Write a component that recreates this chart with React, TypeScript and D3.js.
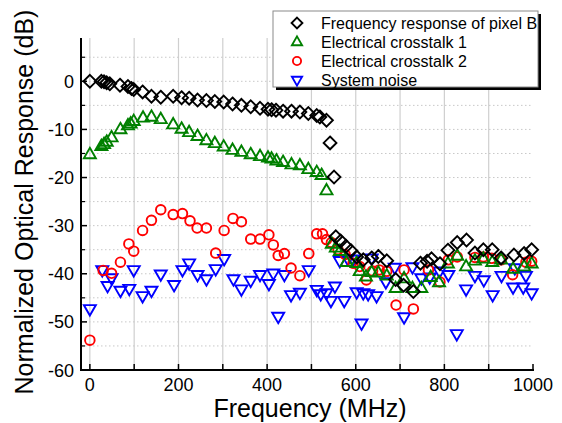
import React from "react";
import * as d3 from "d3";

// ---- data (frequency MHz, normalized response dB) ----
const pixelFreq = [0, 26, 32, 38, 45, 68, 86, 94, 99, 119, 139, 160, 188, 207, 224, 243, 263, 282, 302, 322, 342, 363, 384, 402, 410, 420, 436, 455, 474, 493, 512, 519, 534, 542, 551, 555, 566, 578, 589, 602, 617, 636, 651, 670, 690, 708, 730, 746, 761, 771, 790, 808, 829, 850, 869, 888, 908, 928, 957, 980, 997];
const pixelDb = [0, 0, -0.1, -0.3, -0.5, -0.8, -1.1, -1.5, -1.7, -2.2, -3.1, -3.3, -3.1, -3.4, -3.5, -3.9, -4.0, -4.2, -4.3, -4.7, -5.0, -5.3, -5.6, -5.8, -5.9, -6.0, -6.2, -6.2, -6.4, -6.7, -7.1, -7.4, -8.1, -12.8, -19.9, -32.3, -33.2, -34.3, -35.2, -36.5, -37.1, -36.7, -36.4, -37.3, -41.2, -42.4, -43.7, -37.8, -37.4, -36.9, -37.9, -35.1, -33.5, -33.0, -35.7, -35.0, -35.0, -36.7, -36.1, -35.8, -35.0];

const xt1Freq = [0, 26, 32, 38, 49, 69, 86, 92, 99, 120, 139, 160, 188, 207, 224, 243, 263, 282, 302, 322, 342, 363, 384, 402, 410, 421, 436, 455, 474, 493, 512, 523, 534, 546, 555, 564, 579, 602, 609, 623, 636, 651, 670, 690, 709, 728, 748, 769, 788, 808, 829, 849, 869, 888, 908, 928, 955, 980, 997];
const xt1Db = [-15.2, -13.5, -13.1, -12.6, -11.7, -10.0, -9.2, -8.8, -8.3, -7.6, -7.4, -7.9, -9.0, -9.9, -10.6, -11.4, -12.3, -12.9, -13.6, -14.3, -14.7, -15.2, -15.6, -15.9, -16.1, -16.5, -16.8, -17.3, -17.5, -18.3, -18.9, -19.5, -22.7, -33.8, -34.6, -35.3, -37.6, -37.8, -39.5, -40.6, -39.7, -39.8, -40.4, -43.0, -41.0, -43.0, -43.0, -40.7, -41.8, -37.9, -36.3, -38.5, -37.3, -36.9, -37.6, -37.1, -39.0, -38.5, -37.9];

const xt2Freq = [0, 30, 49, 69, 88, 99, 119, 139, 160, 188, 209, 226, 242, 263, 284, 303, 323, 342, 363, 384, 404, 414, 425, 439, 454, 474, 494, 512, 525, 534, 545, 560, 576, 594, 609, 624, 638, 653, 670, 691, 709, 730, 764, 790, 809, 829, 869, 888, 907, 928, 954, 984, 997];
const xt2Db = [-53.8, -39.3, -39.9, -37.6, -33.8, -35.3, -31.0, -28.9, -26.7, -27.7, -27.5, -29.0, -30.5, -30.5, -35.7, -31.0, -28.5, -29.2, -32.8, -32.8, -31.9, -34.0, -36.2, -35.8, -38.8, -40.4, -35.8, -31.7, -31.7, -32.9, -33.5, -35.0, -36.0, -37.8, -38.5, -41.3, -39.4, -39.2, -39.5, -46.5, -39.2, -47.3, -39.2, -41.7, -37.1, -36.5, -36.6, -36.5, -36.8, -37.1, -40.2, -37.6, -37.4];

const noiseFreq = [0, 28, 40, 49, 69, 89, 99, 119, 139, 160, 190, 209, 224, 243, 263, 284, 303, 324, 342, 363, 384, 404, 414, 425, 439, 454, 474, 494, 512, 521, 534, 544, 553, 564, 574, 582, 594, 602, 613, 617, 628, 636, 647, 668, 688, 709, 728, 748, 767, 789, 809, 828, 849, 869, 889, 909, 929, 955, 959, 978, 984, 997];
const noiseDb = [-47.3, -39.2, -42.5, -40.9, -43.5, -43.1, -39.2, -44.6, -43.5, -40.1, -42.3, -39.2, -37.8, -40.2, -41.1, -39.0, -36.9, -41.1, -43.2, -41.4, -40.2, -42.1, -39.9, -48.9, -40.2, -44.4, -43.9, -39.2, -43.3, -44.2, -44.0, -45.6, -42.6, -37.3, -45.6, -36.9, -37.0, -43.8, -50.3, -44.0, -44.2, -36.8, -44.6, -41.7, -38.7, -49.0, -38.6, -40.9, -40.7, -39.5, -40.2, -52.5, -43.2, -40.4, -41.3, -44.4, -40.4, -42.8, -38.8, -42.8, -40.4, -44.0];

const xTicks = [0, 200, 400, 600, 800, 1000];
const xGrid = [0, 100, 200, 300, 400, 500, 600, 700, 800, 900];
const yTicks = [-60, -50, -40, -30, -20, -10, 0];
const yMinor = [-55, -45, -35, -25, -15, -5, 5];

const legendLabels = ["Frequency response of pixel B", "Electrical crosstalk 1", "Electrical crosstalk 2", "System noise"];

const GREEN = "#008000";
const FONT = "'Liberation Sans', Arial, sans-serif";

type Kind = "diamond" | "up" | "circle" | "down";

function markerPath(kind: Kind): string {
  if (kind === "diamond") return "M0,-6.4L6.4,0L0,6.4L-6.4,0Z";
  if (kind === "up") return "M0,-6.6L6,3.8L-6,3.8Z";
  if (kind === "down") return "M0,6.6L6,-3.8L-6,-3.8Z";
  return d3.arc()({ innerRadius: 0, outerRadius: 4.8, startAngle: 0, endAngle: 2 * Math.PI }) as string;
}

export default function App() {
  const W = 562, H = 423;
  const x = d3.scaleLinear().domain([-20, 1000]).range([81, 533]);
  const y = d3.scaleLinear().domain([-60, 9]).range([370, 38]);

  const series: { kind: Kind; color: string; f: number[]; v: number[] }[] = [
    { kind: "down", color: "#0000ff", f: noiseFreq, v: noiseDb },
    { kind: "circle", color: "#ff0000", f: xt2Freq, v: xt2Db },
    { kind: "up", color: GREEN, f: xt1Freq, v: xt1Db },
    { kind: "diamond", color: "#000000", f: pixelFreq, v: pixelDb },
  ];
  const legendSeries = [series[3], series[2], series[1], series[0]];

  const hGrid = d3.range(-55, 6, 5);

  return (
    <svg width={W} height={H} style={{ position: "absolute", left: 0, top: 0, background: "#fff" }} fontFamily={FONT}>
      <rect x={0} y={0} width={W} height={H} fill="#fff" />
      {/* grid */}
      {xGrid.map((g) => (
        <line key={"vg" + g} x1={x(g)} x2={x(g)} y1={y(9)} y2={y(-60)} stroke="#cfcfcf" strokeWidth={1.2} />
      ))}
      {hGrid.map((g) => (
        <line key={"hg" + g} x1={x(-20)} x2={x(1000)} y1={y(g)} y2={y(g)} stroke="#c8c8c8" strokeWidth={1} strokeDasharray="1.5,2.5" />
      ))}
      {/* markers */}
      {series.map((s, si) => (
        <g key={"s" + si} fill="none" stroke={s.color} strokeWidth={1.9}>
          {s.f.map((f, i) => (
            <path key={i} d={markerPath(s.kind)} transform={`translate(${x(f)},${y(s.v[i])})`} />
          ))}
        </g>
      ))}
      {/* axes */}
      <line x1={x(-20)} x2={x(-20)} y1={y(9)} y2={y(-60) + 1} stroke="#000" strokeWidth={2} />
      <line x1={x(-20) - 1} x2={x(1000) + 1} y1={y(-60)} y2={y(-60)} stroke="#000" strokeWidth={2} />
      {xGrid.concat([1000]).map((t) => (
        <line key={"xt" + t} x1={x(t)} x2={x(t)} y1={y(-60)} y2={y(-60) - 6} stroke="#000" strokeWidth={1.5} />
      ))}
      {yTicks.map((t) => (
        <line key={"yt" + t} x1={x(-20)} x2={x(-20) + 6} y1={y(t)} y2={y(t)} stroke="#000" strokeWidth={1.5} />
      ))}
      {yMinor.map((t) => (
        <line key={"ym" + t} x1={x(-20)} x2={x(-20) + 4} y1={y(t)} y2={y(t)} stroke="#000" strokeWidth={1.2} />
      ))}
      {xTicks.map((t) => (
        <text key={"xl" + t} x={x(t)} y={391} textAnchor="middle" fontSize={18} fill="#000">{t}</text>
      ))}
      {yTicks.map((t) => (
        <text key={"yl" + t} x={74} y={y(t) + 6.5} textAnchor="end" fontSize={18} fill="#000">{t}</text>
      ))}
      <text x={310} y={416.5} textAnchor="middle" fontSize={25} fill="#000">Frequency (MHz)</text>
      <text transform="translate(33,202) rotate(-90)" textAnchor="middle" fontSize={25} fill="#000">Normalized Optical Response (dB)</text>
      {/* legend */}
      <rect x={276} y={14} width={265} height={76} fill="#000" />
      <rect x={273} y={11} width={265} height={76} fill="#fff" stroke="#8a8a8a" strokeWidth={1} />
      {legendSeries.map((s, i) => (
        <g key={"lg" + i}>
          <path d={markerPath(s.kind)} transform={`translate(297,${23 + i * 19}) scale(0.85)`} fill="none" stroke={s.color} strokeWidth={2.2} />
          <text x={321} y={23 + i * 19 + 5.5} fontSize={16} fill="#000">{legendLabels[i]}</text>
        </g>
      ))}
    </svg>
  );
}
